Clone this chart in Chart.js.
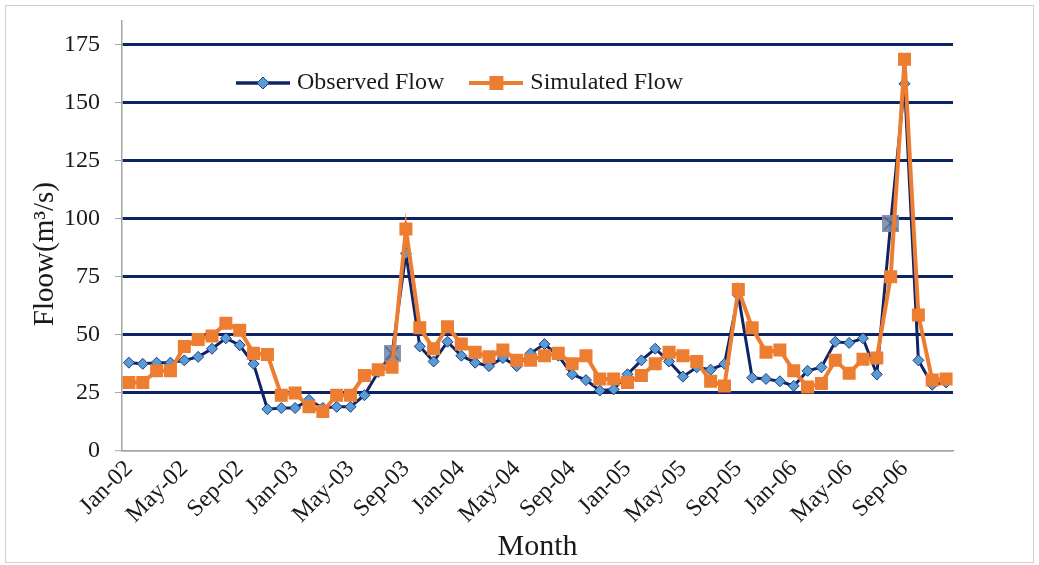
<!DOCTYPE html>
<html><head><meta charset="utf-8">
<script src="https://cdn.jsdelivr.net/npm/chart.js@4.4.0/dist/chart.umd.min.js"></script>
<style>
html,body{margin:0;padding:0;background:#fff;}
#wrap{position:relative;width:1039px;height:565px;}
#frame{position:absolute;left:5px;top:5px;width:1027px;height:556px;border:1px solid #cfcfcf;pointer-events:none;}
</style></head><body>
<div id="wrap"><canvas id="c" width="1039" height="565"></canvas><div id="frame"></div></div>
<script>
const categories = [
 'Jan-02','Feb-02','Mar-02','Apr-02','May-02','Jun-02','Jul-02','Aug-02','Sep-02','Oct-02','Nov-02','Dec-02',
 'Jan-03','Feb-03','Mar-03','Apr-03','May-03','Jun-03','Jul-03','Aug-03','Sep-03','Oct-03','Nov-03','Dec-03',
 'Jan-04','Feb-04','Mar-04','Apr-04','May-04','Jun-04','Jul-04','Aug-04','Sep-04','Oct-04','Nov-04','Dec-04',
 'Jan-05','Feb-05','Mar-05','Apr-05','May-05','Jun-05','Jul-05','Aug-05','Sep-05','Oct-05','Nov-05','Dec-05',
 'Jan-06','Feb-06','Mar-06','Apr-06','May-06','Jun-06','Jul-06','Aug-06','Sep-06','Oct-06','Nov-06','Dec-06'
];
const xTickLabels = ['Jan-02','May-02','Sep-02','Jan-03','May-03','Sep-03','Jan-04','May-04','Sep-04',
 'Jan-05','May-05','Sep-05','Jan-06','May-06','Sep-06'];
const yTicks = [0,25,50,75,100,125,150,175];
const observed = [
 38,37.5,38,38,39,40.5,44,48.5,45.5,37.5,
 18,18.5,18.5,22,18.5,19,19,24,34,42,
 85,45,38.5,47,41,38,36.5,40,36.5,42,
 46,41,33,30.5,26,26.5,33,39,44,38.5,
 32,36,35,37.5,67,31.5,31,30,28,34.5,
 36,47,46.5,48.5,33,98,158,39,28.5,29.5
];
const simulated = [
 29.5,29.5,34.5,34.5,45,48,49.5,55,52,42,
 41.5,24,25,19,17,24,24,32.5,35,36,
 95.5,53,44,53.5,46,42.5,40.5,43.5,39,39,
 41,42,37.5,41,31,31,29.5,32.5,37.5,42.5,
 41,38.5,30,28,69.5,53,42.5,43.5,34.5,27.5,
 29,39,33.5,39.5,40,75,168.5,58.5,30.5,31
];
const markedObs = [19,55];

const SERIF = "'Liberation Serif','DejaVu Serif',serif";
const NAVY = '#0f2468', GRID = '#0c2366', LBLUE = '#5b9bd5', ORANGE = '#ed7d31', AXIS = '#a6a6a6', TXT = '#1a1a1a';

function mk(w,h,fn){const c=document.createElement('canvas');c.width=w;c.height=h;fn(c.getContext('2d'),w,h);return c;}
const xMark = mk(17,17,(g,w,h)=>{g.fillStyle='rgba(120,138,170,0.9)';g.fillRect(0,0,w,h);g.strokeStyle='#4d5f85';g.lineWidth=1.3;
 g.beginPath();g.moveTo(2,2);g.lineTo(w-2,h-2);g.moveTo(w-2,2);g.lineTo(2,h-2);g.stroke();});
const legObs = mk(54,20,(g,w,h)=>{g.strokeStyle=NAVY;g.lineWidth=3.5;g.beginPath();g.moveTo(0,10);g.lineTo(w,10);g.stroke();
 g.fillStyle=LBLUE;g.strokeStyle='#1f3f7a';g.lineWidth=1;g.beginPath();g.moveTo(w/2-6,10);g.lineTo(w/2,4);g.lineTo(w/2+6,10);g.lineTo(w/2,16);g.closePath();g.fill();g.stroke();});
const legSim = mk(54,20,(g,w,h)=>{g.strokeStyle=ORANGE;g.lineWidth=4;g.beginPath();g.moveTo(0,10);g.lineTo(w,10);g.stroke();
 g.fillStyle=ORANGE;g.fillRect(w/2-7,3,14,14);});

const legendPos = {id:'legendPos',
 afterInit(chart){ if(chart.legend) chart.legend.isHorizontal = () => true; },
 beforeDraw(chart){const lg=chart.legend; if(!lg) return; const w=lg.width,h=lg.height; lg.left=211; lg.right=lg.left+w; lg.top=41; lg.bottom=lg.top+h;}};

new Chart(document.getElementById('c'), {
 type:'line',
 data:{labels:categories, datasets:[
  {label:'Observed Flow', data:observed, borderColor:NAVY, borderWidth:3, tension:0,
   pointStyle: c => markedObs.includes(c.dataIndex) ? xMark : 'rectRot',
   pointRadius:5.5, pointBackgroundColor:LBLUE, pointBorderColor:'#1f3f7a', pointBorderWidth:1, order:1},
  {label:'Simulated Flow', data:simulated, borderColor:ORANGE, borderWidth:4, tension:0,
   pointStyle:'rect', pointRadius:9.2, pointBackgroundColor:ORANGE, pointBorderColor:ORANGE, pointBorderWidth:0, order:0}
 ]},
 options:{
  responsive:false, animation:false, devicePixelRatio:1,
  layout:{padding:{left:0,top:21,right:86,bottom:0}},
  plugins:{
   tooltip:{enabled:false},
   legend:{position:'chartArea', align:'start',
    labels:{usePointStyle:true, pointStyleWidth:44, padding:30, color:TXT, font:{family:SERIF,size:24},
     generateLabels: () => [
      {text:'Observed Flow', pointStyle:legObs, fillStyle:NAVY, strokeStyle:NAVY, lineWidth:0, hidden:false, datasetIndex:0, fontColor:TXT},
      {text:'Simulated Flow', pointStyle:legSim, fillStyle:ORANGE, strokeStyle:ORANGE, lineWidth:0, hidden:false, datasetIndex:1, fontColor:TXT}
     ]}}
  },
  scales:{
   x:{type:'category', offset:true, afterFit: s => { s.height = 114; },
    grid:{display:false, drawTicks:false},
    border:{display:true, color:AXIS, width:1.5},
    ticks:{autoSkip:false, minRotation:45, maxRotation:45, padding:4, color:TXT, font:{family:SERIF,size:24},
     callback:(v,i) => xTickLabels.includes(categories[i]) ? categories[i] : ''},
    title:{display:true, text:'Month', color:TXT, font:{family:SERIF,size:30}, padding:{top:0,bottom:0}}
   },
   y:{min:0, max:185, afterBuildTicks: s => { s.ticks = yTicks.map(v => ({value:v})); },
    afterFit: s => { s.width = 122; s.paddingTop = 0; s.paddingBottom = 0; },
    grid:{color: c => (c.tick && c.tick.value === 0) ? AXIS : GRID,
          lineWidth: c => (c.tick && c.tick.value === 0) ? 1.5 : 3,
          tickColor:AXIS, tickLength:7, tickWidth:1, drawTicks:true},
    border:{display:true, color:AXIS, width:1.5},
    ticks:{padding:15, color:TXT, font:{family:SERIF,size:24}},
    title:{display:true, text:'Floow(m³/s)\u00A0\u00A0\u00A0\u00A0\u00A0', color:TXT, font:{family:SERIF,size:29}, padding:{top:28,bottom:0}}
   }
  }
 },
 plugins:[legendPos]
});
</script>
</body></html>
